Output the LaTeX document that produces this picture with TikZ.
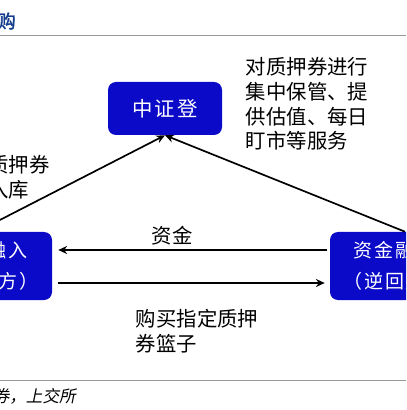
\documentclass[tikz,border=0pt]{standalone}
\usepackage{fontspec}
\setmainfont{Noto Sans CJK SC}[ItalicFont=Noto Sans CJK SC,ItalicFeatures={FakeSlant=0.2},BoldFont=Noto Sans CJK SC,BoldFeatures={FakeBold=2}]
\newfontfamily\boxfont[LetterSpace=10]{Noto Sans CJK SC}
\usetikzlibrary{shapes,arrows,arrows.meta,positioning,calc}
\definecolor{boxblue}{RGB}{10,10,200}
\definecolor{titleblue}{RGB}{20,60,140}

\begin{document}
\begin{tikzpicture}[x=0.25mm,y=-0.25mm,
	party/.style={fill=boxblue,rounded corners=2mm,text=white,font=\boxfont\fontsize{13.5}{22}\selectfont,align=center,minimum width=37.5mm,minimum height=17mm,inner sep=0pt},
	note/.style={font=\fontsize{14.5}{17.5}\selectfont,align=left,inner sep=0pt},
	flow/.style={line width=1.2pt,-{Stealth[length=2.2mm,width=2mm]}}]
	\useasboundingbox (0,0) rectangle (406,410);
	\clip (0,0) rectangle (406,410);
	\node[font=\bfseries\fontsize{13}{15}\selectfont,text=titleblue,anchor=east,inner sep=0pt] (title) at (16,21) {三方回购};
	\draw[gray!80,line width=0.6pt] (0,35) -- (406,35);
	\draw[gray!80,line width=0.6pt] (0,380) -- (406,380);
	\node[party,font=\boxfont\fontsize{14.5}{16}\selectfont,minimum width=28.5mm,minimum height=13.25mm] (zdd) at (165,108.5) {中证登};
	\node[party,text width=37.5mm] (fin) at (-23,266) {\hspace*{14pt}资金融入\\（正回购方）};
	\node[party] (lend) at (405,266) {资金融出方\\（逆回购方）};
	\node[note] (svc) at (307,104) {对质押券进行\\集中保管、提\\供估值、每日\\盯市等服务};
	\node[note] (dep) at (9,177) {将质押券\\转入库};
	\node[note] (cash) at (172,236) {资金};
	\node[note] (buy) at (197,331) {购买指定质押\\券篮子};
	\node[font=\itshape\fontsize{11.8}{14}\selectfont,anchor=east,inner sep=0pt] (src) at (76,396) {资料来源：中信证券，上交所};
	\draw[flow] (fin.north) -- (zdd.south);
	\draw[flow] (lend.north) -- (zdd.south);
	\draw[flow] ([xshift=-0.75mm,yshift=4mm]lend.west) -- ([xshift=1.5mm,yshift=4mm]fin.east);
	\draw[flow] ([xshift=1.5mm,yshift=-4.25mm]fin.east) -- ([xshift=-1.25mm,yshift=-4.25mm]lend.west);
\end{tikzpicture}
\end{document}
